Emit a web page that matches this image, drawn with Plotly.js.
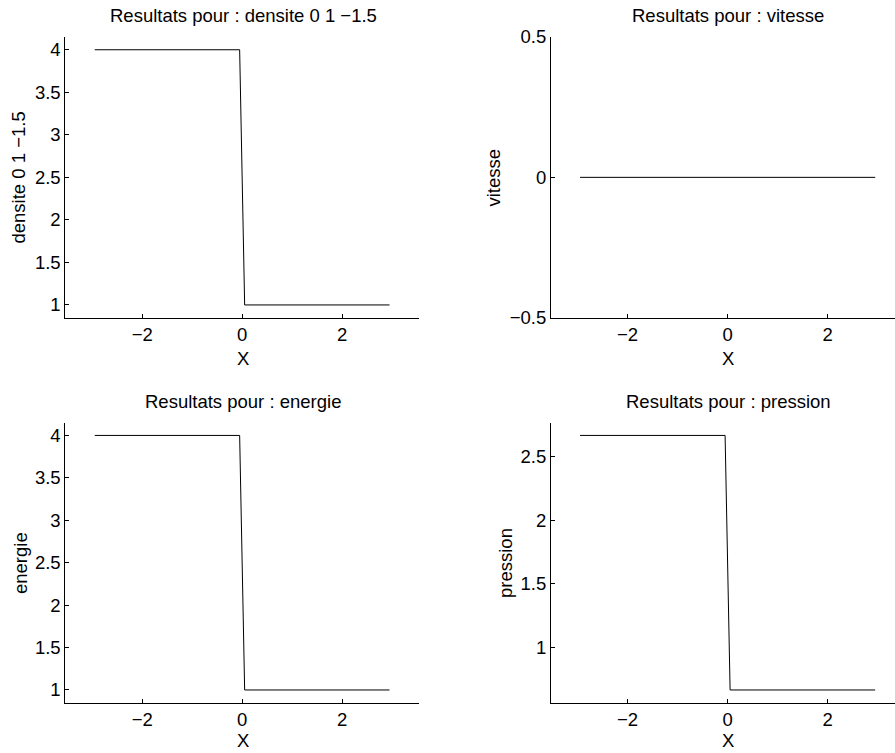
<!DOCTYPE html>
<html>
<head>
<meta charset="utf-8">
<script src="https://cdn.plot.ly/plotly-3.0.1.min.js"></script>
<style>html,body{margin:0;padding:0;background:#fff;}#chart{width:895px;height:753px;}</style>
</head>
<body>
<div id="chart"></div>
<script>
// Data
const xPos = [-2.95, -0.05, 0.05, 2.95];
const densite = [4, 4, 1, 1];
const vitesse = [0, 0, 0, 0];
const energie = [4, 4, 1, 1];
const pression = [2.6667, 2.6667, 0.6667, 0.6667];

const xTicks = [-2, 0, 2];
const densiteTicks = [1, 1.5, 2, 2.5, 3, 3.5, 4];
const vitesseTicks = [-0.5, 0, 0.5];
const energieTicks = [1, 1.5, 2, 2.5, 3, 3.5, 4];
const pressionTicks = [1, 1.5, 2, 2.5];

const titles = ["Resultats pour : densite 0 1 \u22121.5", "Resultats pour : vitesse", "Resultats pour : energie", "Resultats pour : pression"];
const yLabels = ["densite 0 1 \u22121.5", "vitesse", "energie", "pression"];
const xLabel = "X";

const W = 895, H = 753;
const FONT = "Liberation Sans, Arial, Helvetica, sans-serif";
const FS = 18.5;

function line(x, y, xa, ya) {
  return {x: x, y: y, xaxis: xa, yaxis: ya, type: 'scatter', mode: 'lines',
    line: {color: '#000', width: 1}, hoverinfo: 'skip', showlegend: false};
}
const data = [
  line(xPos, densite, 'x', 'y'),
  line(xPos, vitesse, 'x2', 'y2'),
  line(xPos, energie, 'x3', 'y3'),
  line(xPos, pression, 'x4', 'y4')
];

function xax(domain, range, anchor) {
  return {domain: domain, range: range, anchor: anchor, tickvals: xTicks,
    ticks: 'inside', ticklen: 4, tickcolor: '#000', tickwidth: 1,
    showline: true, linecolor: '#000', linewidth: 1, showgrid: false, zeroline: false,
    tickfont: {family: FONT, size: FS, color: '#000'}, fixedrange: true};
}
function yax(domain, range, anchor, tv) {
  return {domain: domain, range: range, anchor: anchor, tickvals: tv,
    ticks: 'inside', ticklen: 4, tickcolor: '#000', tickwidth: 1,
    showline: true, linecolor: '#000', linewidth: 1, showgrid: false, zeroline: false,
    tickfont: {family: FONT, size: FS, color: '#000'}, fixedrange: true};
}
const px = v => v / W;
const py = v => 1 - v / H;

const leftDom = [px(65.3), px(419)];
const rightDom = [px(551), 1];
const topDom = [py(317.7), py(37)];
const botDom = [py(702.7), py(422.7)];

function ann(text, x, y, angle) {
  return {text: text, x: px(x), y: py(y), xref: 'paper', yref: 'paper',
    xanchor: 'center', yanchor: 'middle', showarrow: false, textangle: angle || 0,
    font: {family: FONT, size: FS, color: '#000'}};
}

const layout = {
  width: W, height: H,
  margin: {l: 0, r: 0, t: 0, b: 0},
  paper_bgcolor: '#fff', plot_bgcolor: 'rgba(0,0,0,0)',
  showlegend: false,
  xaxis: xax(leftDom, [-3.54, 3.54], 'y'),
  yaxis: yax(topDom, [0.85, 4.15], 'x', densiteTicks),
  xaxis2: xax(rightDom, [-3.53, 3.346], 'y2'),
  yaxis2: yax(topDom, [-0.5, 0.5], 'x2', vitesseTicks),
  xaxis3: xax(leftDom, [-3.54, 3.54], 'y3'),
  yaxis3: yax(botDom, [0.85, 4.15], 'x3', energieTicks),
  xaxis4: xax(rightDom, [-3.53, 3.346], 'y4'),
  yaxis4: yax(botDom, [0.5667, 2.7667], 'x4', pressionTicks),
  annotations: [
    ann(titles[0], 243, 15.5),
    ann(titles[1], 728, 15.5),
    ann(titles[2], 243, 401),
    ann(titles[3], 728, 401),
    ann(yLabels[0], 18, 177.5, -90),
    ann(yLabels[1], 493, 177.5, -90),
    ann(yLabels[2], 20, 563, -90),
    ann(yLabels[3], 505, 563, -90),
    ann(xLabel, 242.7, 358.3),
    ann(xLabel, 727.7, 358.3),
    ann(xLabel, 242.7, 740),
    ann(xLabel, 727.7, 740)
  ]
};

Plotly.newPlot('chart', data, layout, {displayModeBar: false, staticPlot: true});
</script>
</body>
</html>
